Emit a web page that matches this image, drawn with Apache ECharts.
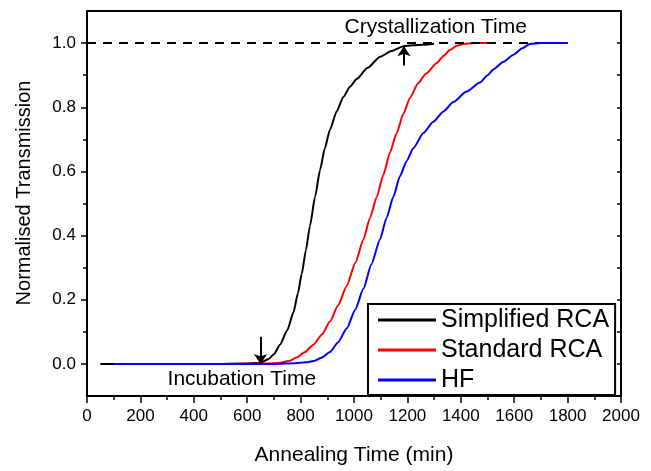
<!DOCTYPE html>
<html>
<head>
<meta charset="utf-8">
<script src="https://cdn.jsdelivr.net/npm/echarts@6/dist/echarts.min.js"></script>
<style>html,body{margin:0;padding:0;background:#fff}#c{width:651px;height:471px}</style>
</head>
<body>
<div id="c"></div>
<script>
var FONT = 'Arial, "Liberation Sans", sans-serif';
var seriesNames = ['Simplified RCA', 'Standard RCA', 'HF'];
var seriesColors = ['#000000', '#ff0000', '#0000ff'];
var simplifiedRCA = [[50,0],[100,0],[300,0],[500,0],[600,0.001],[650,0.004],[680,0.015],[700,0.03],[723,0.06],[750,0.105],[773,0.16],[790,0.22],[804,0.28],[820,0.355],[835,0.43],[854,0.52],[873,0.605],[890,0.67],[910,0.73],[935,0.787],[960,0.832],[985,0.864],[1010,0.888],[1050,0.922],[1097,0.957],[1140,0.975],[1185,0.99],[1220,0.993],[1260,0.995],[1300,0.998]];
var standardRCA = [[100,0],[300,0],[500,0],[650,0.001],[700,0.002],[723,0.004],[760,0.01],[785,0.02],[815,0.036],[848,0.06],[880,0.092],[910,0.132],[940,0.182],[973,0.244],[1005,0.315],[1035,0.387],[1060,0.455],[1085,0.52],[1110,0.59],[1135,0.66],[1160,0.72],[1185,0.78],[1210,0.83],[1240,0.875],[1270,0.905],[1310,0.938],[1335,0.96],[1360,0.979],[1385,0.992],[1410,0.997],[1450,1.0],[1500,1.0]];
var hf = [[100,0],[300,0],[500,0],[700,0],[780,0.002],[820,0.005],[848,0.009],[880,0.02],[910,0.037],[940,0.067],[973,0.111],[1005,0.17],[1035,0.234],[1065,0.31],[1097,0.387],[1122,0.455],[1147,0.52],[1172,0.585],[1197,0.632],[1222,0.672],[1260,0.72],[1297,0.755],[1335,0.787],[1372,0.816],[1420,0.848],[1472,0.877],[1500,0.9],[1522,0.918],[1560,0.942],[1597,0.964],[1630,0.984],[1659,0.997],[1700,1.0],[1800,1.0]];
var xMin = 0, xMax = 2000, xInterval = 200;
var yMin = -0.1, yMax = 1.1;
var yMajorTicks = [0, 0.2, 0.4, 0.6, 0.8, 1.0];
var yMinorTicks = [0.1, 0.3, 0.5, 0.7, 0.9];
var yRightTicks = [0, 0.1, 0.2, 0.3, 0.4, 0.5, 0.6, 0.7, 0.8, 0.9, 1.0];
var saturationLine = [[0, 1], [1800, 1]];
var incubationArrow = [[650, 0.085], [650, 0.0]];
var crystallizationArrow = [[1187, 0.93], [1187, 0.99]];
var incubationLabel = {text: 'Incubation Time', coord: [580, -0.049]};
var crystallizationLabel = {text: 'Crystallization Time', coord: [1306, 1.05]};

var dataSets = [simplifiedRCA, standardRCA, hf];
var series = dataSets.map(function (d, i) {
  return {
    name: seriesNames[i], type: 'line', data: d, showSymbol: false, symbol: 'none',
    lineStyle: {color: seriesColors[i], width: 2}, itemStyle: {color: seriesColors[i]},
    smooth: 0.2, smoothMonotone: 'x', animation: false, z: 3 + i
  };
});
series.push({
  type: 'line', data: [], silent: true, animation: false, z: 10,
  markLine: {
    silent: true, animation: false, label: {show: false},
    symbol: ['none', 'none'],
    lineStyle: {color: '#000', width: 2, type: [9, 7]},
    data: [[{coord: saturationLine[0]}, {coord: saturationLine[1]}]]
  }
});
series.push({
  type: 'line', data: [], silent: true, animation: false, z: 11,
  markLine: {
    silent: true, animation: false, label: {show: false},
    symbol: ['none', 'arrow'], symbolSize: 10,
    lineStyle: {color: '#000', width: 2, type: 'solid'},
    itemStyle: {color: '#000'},
    data: [
      [{coord: incubationArrow[0]}, {coord: incubationArrow[1]}],
      [{coord: crystallizationArrow[0]}, {coord: crystallizationArrow[1]}]
    ]
  },
  markPoint: {
    silent: true, animation: false, symbol: 'circle', symbolSize: 0,
    label: {show: true, position: 'inside', color: '#000', fontSize: 21, fontFamily: FONT,
      formatter: function (p) { return p.name; }},
    data: [
      {name: incubationLabel.text, coord: incubationLabel.coord},
      {name: crystallizationLabel.text, coord: crystallizationLabel.coord}
    ]
  }
});

var chart = echarts.init(document.getElementById('c'), null, {renderer: 'canvas'});
chart.setOption({
  animation: false,
  backgroundColor: '#fff',
  grid: {left: 87, top: 11, right: 30, bottom: 68, containLabel: false},
  legend: {
    show: true, data: seriesNames, orient: 'vertical', left: 368, top: 304,
    padding: [3, 6, 2, 10], itemGap: 4, itemWidth: 58, itemHeight: 3, icon: 'rect',
    borderColor: '#000', borderWidth: 2, backgroundColor: '#fff',
    textStyle: {fontSize: 25, fontFamily: FONT, color: '#000', lineHeight: 26}
  },
  xAxis: [{
    type: 'value', min: xMin, max: xMax, interval: xInterval, position: 'bottom',
    name: 'Annealing Time (min)', nameLocation: 'middle', nameGap: 49,
    nameTextStyle: {fontSize: 21, fontFamily: FONT, color: '#000'},
    axisLine: {show: true, onZero: false, lineStyle: {color: '#000', width: 2}},
    axisTick: {show: true, inside: false, length: 7, lineStyle: {color: '#000', width: 1.5}},
    minorTick: {show: true, splitNumber: 2, length: 4, lineStyle: {color: '#000', width: 1.5}},
    axisLabel: {fontSize: 17, fontFamily: FONT, color: '#000', margin: 12,
      formatter: function (v) { return String(v); }},
    splitLine: {show: false}
  }, {
    type: 'value', min: xMin, max: xMax, position: 'top',
    axisLine: {show: true, onZero: false, lineStyle: {color: '#000', width: 2}},
    axisTick: {show: false}, axisLabel: {show: false}, splitLine: {show: false}
  }],
  yAxis: [{
    type: 'value', min: yMin, max: yMax, position: 'left',
    axisLine: {show: true, onZero: false, lineStyle: {color: '#000', width: 2}},
    axisTick: {show: true, inside: false, length: 6, customValues: yMajorTicks, lineStyle: {color: '#000', width: 1.5}},
    axisLabel: {fontSize: 17, fontFamily: FONT, color: '#000', margin: 11, customValues: yMajorTicks,
      formatter: function (v) { return v.toFixed(1); }},
    splitLine: {show: false}
  }, {
    type: 'value', min: yMin, max: yMax, position: 'left',
    axisLine: {show: false},
    axisTick: {show: true, inside: false, length: 4, customValues: yMinorTicks, lineStyle: {color: '#000', width: 1.5}},
    axisLabel: {show: false}, splitLine: {show: false}
  }, {
    type: 'value', min: yMin, max: yMax, position: 'right',
    axisLine: {show: true, onZero: false, lineStyle: {color: '#000', width: 2}},
    axisTick: {show: true, inside: true, length: 4, customValues: yRightTicks, lineStyle: {color: '#000', width: 1.5}},
    axisLabel: {show: false}, splitLine: {show: false}
  }],
  graphic: [{
    type: 'text', x: 24, y: 193, rotation: Math.PI / 2,
    style: {text: 'Normalised Transmission', fontSize: 20, fontFamily: FONT, fill: '#000',
      align: 'center', verticalAlign: 'middle'}
  }],
  series: series
});
</script>
</body>
</html>
